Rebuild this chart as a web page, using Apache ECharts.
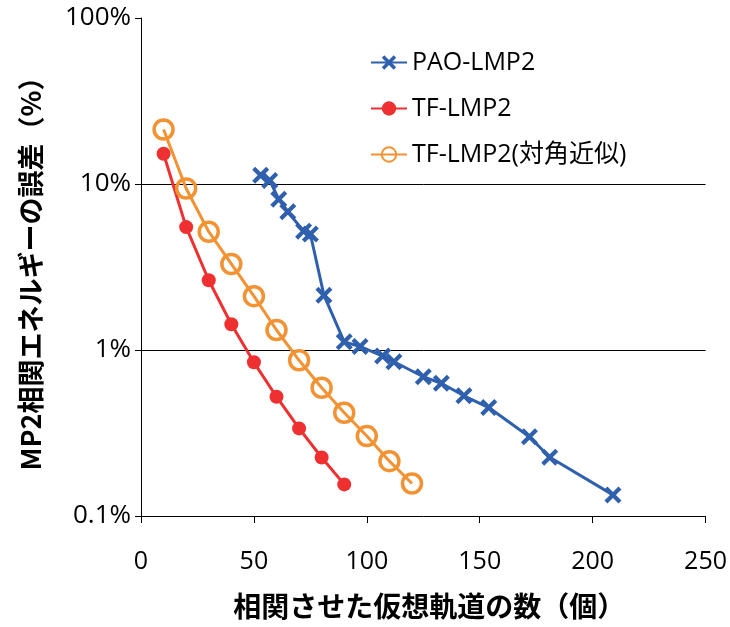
<!DOCTYPE html>
<html><head><meta charset="utf-8">
<script src="https://cdn.jsdelivr.net/npm/echarts@6/dist/echarts.min.js"></script>
<style>html,body{margin:0;padding:0;background:#fff}#c{width:730px;height:627px}</style>
</head><body><div id="c"></div>
<script>
const seriesNames = ['PAO-LMP2', 'TF-LMP2', 'TF-LMP2(対角近似)'];
const paoX = [53, 57, 61, 65, 72, 75, 81, 90, 97, 107, 112, 125, 133, 143, 154, 172, 181, 209];
const paoY = [11.3, 10.5, 8.1, 6.8, 5.2, 5.0, 2.14, 1.12, 1.05, 0.92, 0.85, 0.69, 0.63, 0.53, 0.45, 0.30, 0.226, 0.134];
const tfX = [10, 20, 30, 40, 50, 60, 70, 80, 90];
const tfY = [15.2, 5.5, 2.63, 1.43, 0.843, 0.523, 0.337, 0.225, 0.155];
const tfdX = [10, 20, 30, 40, 50, 60, 70, 80, 90, 100, 110, 120];
const tfdY = [21.3, 9.4, 5.16, 3.3, 2.11, 1.32, 0.867, 0.593, 0.419, 0.303, 0.214, 0.157];
const xTicks = [0, 50, 100, 150, 200, 250];
const yTickLabels = {'0.1': '0.1%', '1': '1%', '10': '10%', '100': '100%'};

const zip = (xs, ys) => xs.map((x, i) => [x, ys[i]]);
const FONT = "'Open Sans', 'Noto Sans CJK JP', sans-serif";
const JFONT = "'Noto Sans CJK JP', sans-serif";
const crossPath = 'path://M0,3.5 L3.5,0 L10,6.5 L16.5,0 L20,3.5 L13.5,10 L20,16.5 L16.5,20 L10,13.5 L3.5,20 L0,16.5 L6.5,10 Z';

const chart = echarts.init(document.getElementById('c'), null, {renderer: 'canvas'});
chart.setOption({
  animation: false,
  backgroundColor: '#fff',
  grid: {left: 141, right: 24, top: 18, bottom: 111, containLabel: false},
  legend: {
    orient: 'vertical', left: 365, top: 45, itemGap: 21, itemWidth: 36, itemHeight: 18,
    textStyle: {fontFamily: FONT, fontSize: 25, color: '#000'},
    data: seriesNames
  },
  xAxis: {
    type: 'value', min: xTicks[0], max: xTicks[xTicks.length - 1], interval: 50,
    name: '相関させた仮想軌道の数（個）', nameLocation: 'middle', nameGap: 76,
    nameTextStyle: {fontFamily: JFONT, fontSize: 28, fontWeight: 'bold', color: '#000', padding: [0, 0, 0, 12]},
    axisLine: {show: true, lineStyle: {color: '#000', width: 1}},
    axisTick: {show: true, length: 7, lineStyle: {color: '#000'}},
    axisLabel: {margin: 33, fontFamily: FONT, fontSize: 25, color: '#000'},
    splitLine: {show: false}
  },
  yAxis: {
    type: 'log', logBase: 10, min: 0.1, max: 100,
    name: 'MP2相関エネルギーの誤差（%）', nameLocation: 'middle', nameGap: 97,
    nameTextStyle: {fontFamily: JFONT, fontSize: 27, fontWeight: 'bold', color: '#000'},
    axisLine: {show: true, lineStyle: {color: '#000', width: 1}},
    axisTick: {show: true, length: 6, lineStyle: {color: '#000'}},
    axisLabel: {margin: 10, fontFamily: FONT, fontSize: 26, color: '#000',
      formatter: v => { const k = String(+v.toPrecision(3)); return yTickLabels[k] || (k + '%'); }},
    splitLine: {show: true, showMinLine: false, showMaxLine: false, lineStyle: {color: '#000', width: 1}}
  },
  series: [
    {name: seriesNames[0], type: 'line', data: zip(paoX, paoY), symbol: crossPath, symbolSize: 17,
     lineStyle: {color: '#2F60AE', width: 3}, itemStyle: {color: '#2F60AE'}, z: 3},
    {name: seriesNames[1], type: 'line', data: zip(tfX, tfY), symbol: 'circle', symbolSize: 14,
     lineStyle: {color: '#EE3130', width: 3}, itemStyle: {color: '#EE3130'}, z: 4},
    {name: seriesNames[2], type: 'line', data: zip(tfdX, tfdY), symbol: 'circle', symbolSize: 19,
     lineStyle: {color: '#F39233', width: 3}, itemStyle: {color: 'rgba(255,255,255,0)', borderColor: '#F39233', borderWidth: 3.5}, z: 5}
  ]
});
</script></body></html>
